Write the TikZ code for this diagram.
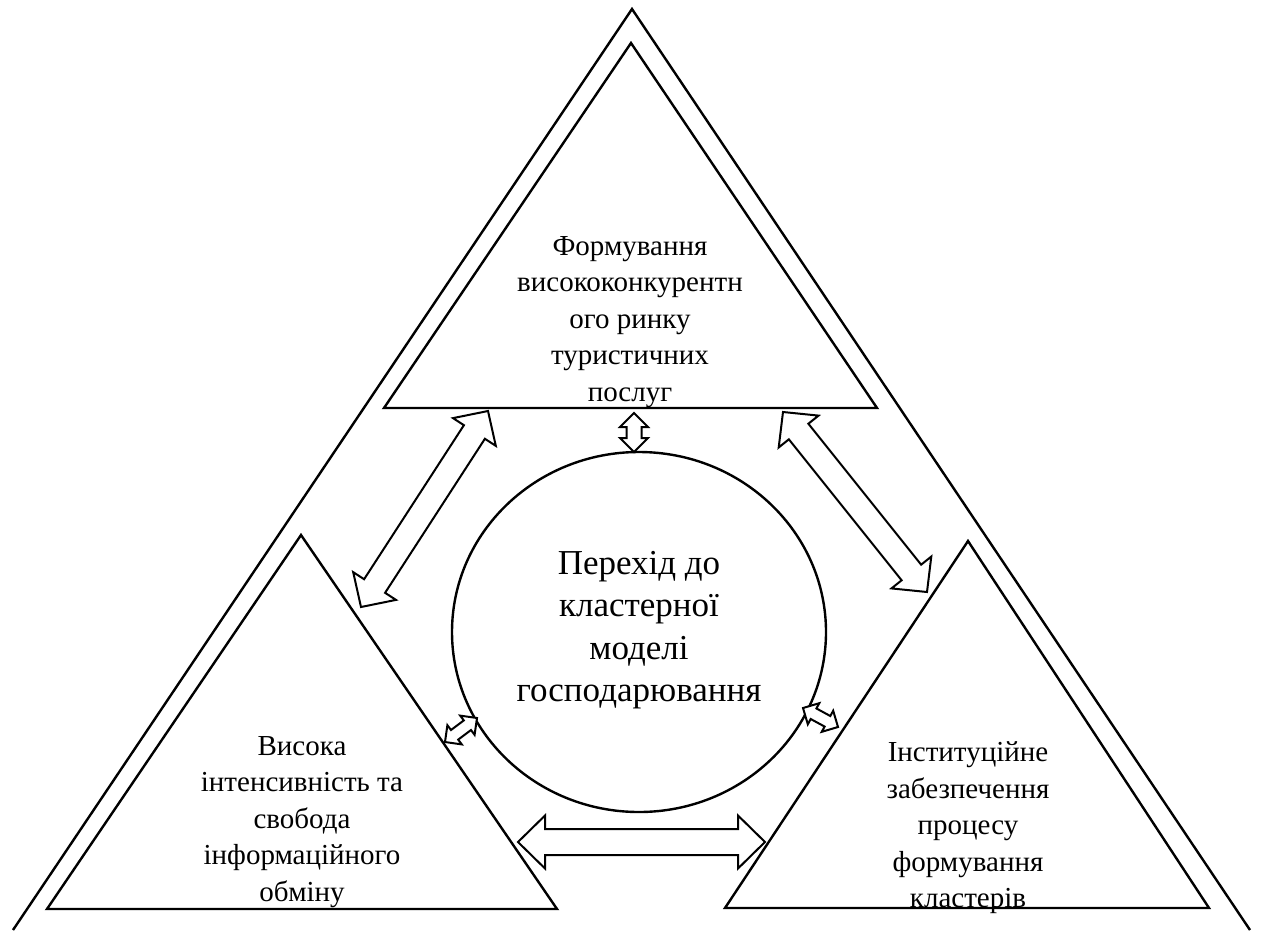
\documentclass[tikz,border=0pt]{standalone}
\usepackage{fontspec}
\setmainfont{Liberation Serif}
\usetikzlibrary{calc,shapes.geometric}

% Two-headed block arrow between tips #1 and #2:
% #3 shaft half width, #4 head half width, #5 head length
\newcommand\dblarrow[5]{%
  \path ($(#1)!#5!(#2)$) coordinate (ha) ($(#2)!#5!(#1)$) coordinate (hb);
  \draw[blockarrow]
    (#1) -- ($(ha)!#4!90:(#2)$) -- ($(ha)!#3!90:(#2)$)
         -- ($(hb)!#3!-90:(#1)$) -- ($(hb)!#4!-90:(#1)$)
    -- (#2) -- ($(hb)!#4!90:(#1)$) -- ($(hb)!#3!90:(#1)$)
         -- ($(ha)!#3!-90:(#2)$) -- ($(ha)!#4!-90:(#2)$) -- cycle;}

\tikzset{
  frame/.style={line width=2.4pt, line join=miter},
  blockarrow/.style={line width=2pt, fill=white, line join=miter},
  boxtext/.style={align=center, font=\fontsize{29}{36.5}\selectfont},
  hubtext/.style={align=center, font=\fontsize{35}{42.5}\selectfont},
}

\begin{document}
\begin{tikzpicture}[x=1pt, y=-1pt]
\useasboundingbox (0,0) rectangle (1261,930);

% outer open triangle
\coordinate (oL) at (13,930);
\coordinate (oT) at (632,9);
\coordinate (oR) at (1250,930);
\draw[frame] (oL) -- (oT) -- (oR);

% top triangle
\coordinate (tT) at (631,43);
\coordinate (tL) at (384,408);
\coordinate (tR) at (877,408);
\draw[frame] (tT) -- (tL) -- (tR) -- cycle;

% left triangle
\coordinate (lT) at (301,535);
\coordinate (lL) at (47,909);
\coordinate (lR) at (557,909);
\draw[frame] (lT) -- (lL) -- (lR) -- cycle;

% right triangle
\coordinate (rT) at (968,541);
\coordinate (rL) at (725,908);
\coordinate (rR) at (1209,908);
\draw[frame] (rT) -- (rL) -- (rR) -- cycle;

% central ellipse
\node[ellipse, draw, line width=2.4pt, minimum width=374pt, minimum height=360pt, inner sep=0pt] (hub) at (639,632) {};

% texts
\node[boxtext] (ttext) at (630,322) {Формування\\висококонкурентн\\ого ринку\\туристичних\\послуг};
\node[hubtext] (htext) at (639,630) {Перехід до\\кластерної\\моделі\\господарювання};
\node[boxtext] (ltext) at (302,822) {Висока\\інтенсивність та\\свобода\\інформаційного\\обміну};
\node[boxtext] (rtext) at (968,828) {Інституційне\\забезпечення\\процесу\\формування\\кластерів};

% arrow end points
\coordinate (a1) at (488,411);  \coordinate (a2) at (361,607);
\coordinate (b1) at (783,412);  \coordinate (b2) at (927,592);
\coordinate (c1) at (634,413);  \coordinate (c2) at (634,452);
\coordinate (d1) at (445,742);  \coordinate (d2) at (477,718);
\coordinate (e1) at (803,708);  \coordinate (e2) at (838,727);
\coordinate (f1) at (518,842);  \coordinate (f2) at (765,842);

\dblarrow{a1}{a2}{12.5pt}{25.5pt}{25pt}
\dblarrow{b1}{b2}{12.5pt}{25.5pt}{25pt}
\dblarrow{c1}{c2}{7.5pt}{14pt}{14pt}
\dblarrow{d1}{d2}{6pt}{12pt}{12pt}
\dblarrow{e1}{e2}{6pt}{12pt}{12pt}
\dblarrow{f1}{f2}{13pt}{26.5pt}{27pt}
\end{tikzpicture}
\end{document}
